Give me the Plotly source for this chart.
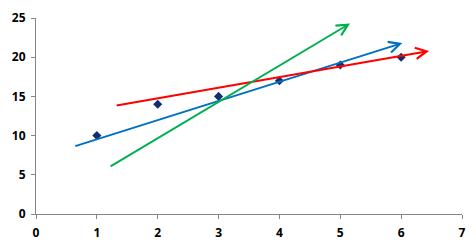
import plotly.graph_objects as go

x_pts = [1, 2, 3, 4, 5, 6]
y_pts = [10, 14, 15, 17, 19, 20]

# arrows: start and end points, colour
arrow_names = ["blue", "red", "green"]
arrow_x0 = [0.62, 1.30, 1.20]
arrow_y0 = [8.6, 13.8, 5.95]
arrow_x1 = [6.02, 6.46, 5.16]
arrow_y1 = [21.8, 20.8, 24.3]
arrow_colors = ["#0070C0", "#FF0000", "#00B050"]

x_ticks = [0, 1, 2, 3, 4, 5, 6, 7]
y_ticks = [0, 5, 10, 15, 20, 25]

fig = go.Figure()
fig.add_trace(go.Scatter(
    x=x_pts, y=y_pts, mode="markers",
    marker=dict(symbol="diamond", size=7, color="#12306E"),
    showlegend=False,
))

for i in range(len(arrow_names)):
    fig.add_annotation(
        x=arrow_x1[i], y=arrow_y1[i], ax=arrow_x0[i], ay=arrow_y0[i],
        xref="x", yref="y", axref="x", ayref="y",
        text="", showarrow=True, arrowhead=5, arrowsize=1.1,
        arrowwidth=2, arrowcolor=arrow_colors[i], standoff=0,
    )

axis_font = dict(family="Open Sans, Liberation Sans, sans-serif", size=12, color="#000000")
fig.update_xaxes(
    range=[0, 7], tickvals=x_ticks, ticktext=[f"<b>{v}</b>" for v in x_ticks],
    showgrid=False, zeroline=False, showline=True, linecolor="#868686", linewidth=1,
    ticks="outside", ticklen=4, tickcolor="#868686", tickfont=axis_font,
    ticklabelstandoff=4, automargin=False,
)
fig.update_yaxes(
    range=[0, 25], tickvals=y_ticks, ticktext=[f"<b>{v}</b>" for v in y_ticks],
    showgrid=False, zeroline=False, showline=True, linecolor="#868686", linewidth=1,
    ticks="outside", ticklen=4, tickcolor="#868686", tickfont=axis_font,
    ticklabelstandoff=3, automargin=False,
)
fig.update_layout(
    width=476, height=247,
    margin=dict(l=36, r=14, t=18, b=33),
    paper_bgcolor="white", plot_bgcolor="white",
)
fig.write_html("out.html")
